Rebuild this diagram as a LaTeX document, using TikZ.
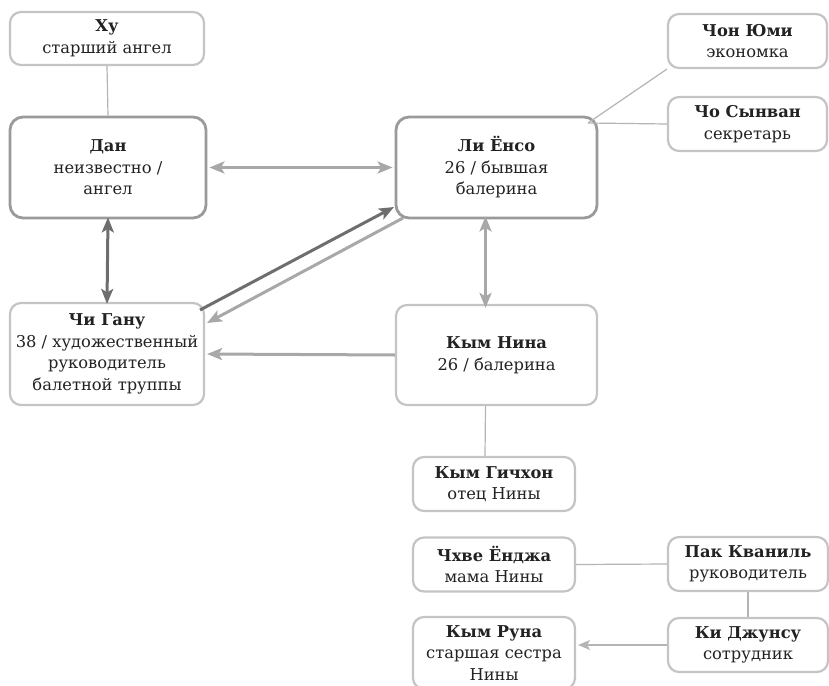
\documentclass[tikz,border=0pt]{standalone}
\usepackage{fontspec}
\setmainfont{DejaVu Serif}
\usetikzlibrary{arrows.meta}
\definecolor{lightb}{HTML}{C4C4C4}
\definecolor{darkb}{HTML}{9A9A9A}
\definecolor{midarr}{HTML}{A8A8A8}
\definecolor{darkarr}{HTML}{6E6E6E}
\definecolor{thinln}{HTML}{B4B4B4}
\definecolor{txt}{HTML}{222222}
\begin{document}
\begin{tikzpicture}[x=1pt,y=-1pt,
  person/.style={draw=lightb,line width=2.2pt,rounded corners=11pt,fill=white,
    align=center,text=txt,font=\fontsize{16.3}{21.5}\selectfont,inner sep=1pt},
  main/.style={person,draw=darkb,line width=2.8pt,rounded corners=13pt},
  mytip/.tip={Stealth[length=15pt,width=12pt,inset=3.5pt]},
  smalltip/.tip={Stealth[length=12pt,width=10pt,inset=3pt]},
  thinconn/.style={draw=thinln,line width=1.2pt},
  midline/.style={draw=midarr,line width=3pt},
  darkline/.style={draw=darkarr,line width=3pt}]
\useasboundingbox (0,0) rectangle (829,685);
\node[person,minimum width=194pt,minimum height=53pt] (hu) at (107,38.5) {\textbf{Ху}\\старший ангел};
\node[main,minimum width=196pt,minimum height=101pt] (dan) at (108,167.5) {\textbf{Дан}\\неизвестно /\\ангел};
\node[main,minimum width=201pt,minimum height=101pt] (li) at (496.5,167.5) {\textbf{Ли Ёнсо}\\26 / бывшая\\балерина};
\node[person,minimum width=159pt,minimum height=54pt] (chon) at (747.5,41) {\textbf{Чон Юми}\\экономка};
\node[person,minimum width=159pt,minimum height=54pt] (cho) at (747.5,124) {\textbf{Чо Сынван}\\секретарь};
\node[person,minimum width=194pt,minimum height=102pt] (chi) at (107,354) {\textbf{Чи Гану}\\38 / художественный\\руководитель\\балетной труппы};
\node[person,minimum width=201pt,minimum height=100pt] (nina) at (496.5,355) {\textbf{Кым Нина}\\26 / балерина};
\node[person,minimum width=162pt,minimum height=54pt] (gich) at (494,484) {\textbf{Кым Гичхон}\\отец Нины};
\node[person,minimum width=162pt,minimum height=54pt] (chhve) at (494,564.5) {\textbf{Чхве Ёнджа}\\мама Нины};
\node[person,minimum width=160pt,minimum height=54pt] (pak) at (748,564) {\textbf{Пак Кваниль}\\руководитель};
\node[person,minimum width=162pt,minimum height=72pt] (runa) at (494,653) {\textbf{Кым Руна}\\старшая сестра\\Нины};
\node[person,minimum width=160pt,minimum height=54pt] (ki) at (748,645) {\textbf{Ки Джунсу}\\сотрудник};
% connectors
\draw[thinconn] (hu.south) -- (dan.north);
\draw[midline,{mytip}-{mytip}] ([xshift=2pt]dan.east) -- ([xshift=-2pt]li.west);
\draw[darkline,{mytip}-{mytip}] ([yshift=2pt]dan.south) -- ([yshift=-2pt]chi.north);
\draw[midline,{mytip}-{mytip}] ([xshift=-11pt,yshift=3pt]li.south) -- ([xshift=-11pt,yshift=-4pt]nina.north);
\coordinate (c1) at (200,310);
\coordinate (c2) at (394,207);
\draw[darkline,-{mytip}] (c1) -- (c2);
\coordinate (c3) at (403,218);
\coordinate (c4) at (207,323);
\draw[midline,-{mytip}] (c3) -- (c4);
\draw[midline,-{mytip}] (nina.west) -- ([xshift=2pt]chi.east);
\draw[thinconn] ([xshift=-11pt]nina.south) -- ([xshift=-9pt]gich.north);
\coordinate (l1) at (588,123);
\draw[thinconn] (l1) -- (chon.south west);
\draw[thinconn] (l1) -- (cho.west);
\draw[thinconn] (chhve.east) -- (pak.west);
\draw[thinconn] (pak.south) -- (ki.north);
\draw[thinconn,-{smalltip}] (ki.west) -- ([xshift=2pt]runa.east |- ki.west);
\end{tikzpicture}
\end{document}
